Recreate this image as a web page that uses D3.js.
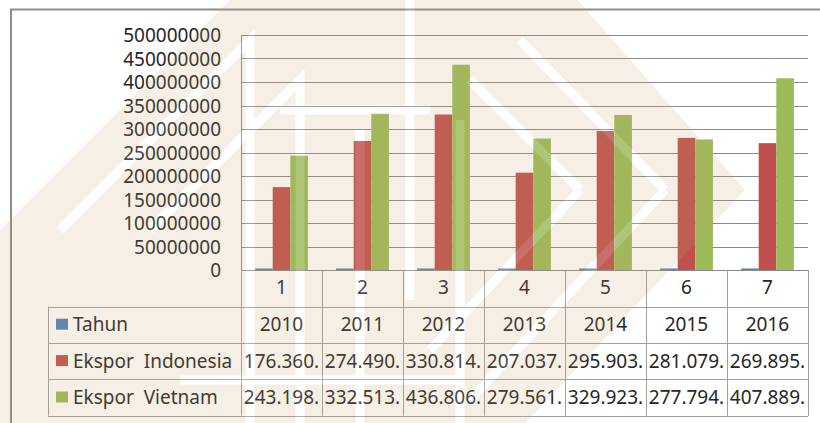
<!DOCTYPE html>
<html>
<head>
<meta charset="utf-8">
<script src="https://cdn.jsdelivr.net/npm/d3@7"></script>
<style>
  body { margin: 0; background: #fff; }
  text { font-family: "Noto Sans", "Open Sans", sans-serif; fill: #262626; }
</style>
</head>
<body>
<div id="chart"></div>
<script>
// data
var categories = ["1", "2", "3", "4", "5", "6", "7"];
var tahun = [2010, 2011, 2012, 2013, 2014, 2015, 2016];
var eksporIndonesia = [176360000, 274490000, 330814000, 207037000, 295903000, 281079000, 269895000];
var eksporVietnam = [243198000, 332513000, 436806000, 279561000, 329923000, 277794000, 407889000];
var seriesNames = ["Tahun", "Ekspor  Indonesia", "Ekspor  Vietnam"];
var seriesColors = ["#4f81bd", "#c0504d", "#9bbb59"];

var series = [
  { name: seriesNames[0], values: tahun, color: seriesColors[0] },
  { name: seriesNames[1], values: eksporIndonesia, color: seriesColors[1] },
  { name: seriesNames[2], values: eksporVietnam, color: seriesColors[2] }
];

var width = 820, height = 423;
var plot = { left: 241, right: 808, top: 35, bottom: 270 };
var tableLeft = 48, tableTop = 306.5, tableBottom = 415.7;

var svg = d3.select("#chart").append("svg")
  .attr("width", width)
  .attr("height", height);

// outer chart frame (cropped at right and bottom)
svg.append("path")
  .attr("d", "M11," + height + "V9.5H" + width)
  .attr("fill", "none")
  .attr("stroke", "#8c8c8c")
  .attr("stroke-width", 2);

// Scales
var xScale = d3.scaleBand()
  .domain(categories)
  .range([plot.left, plot.right]);

var xInner = d3.scaleBand()
  .domain(seriesNames)
  .range([0, xScale.bandwidth()])
  .paddingInner(0)
  .paddingOuter(0.8);

var yScale = d3.scaleLinear()
  .domain([0, 500000000])
  .range([plot.bottom, plot.top]);

// gridlines
svg.append("g")
  .selectAll("line")
  .data(yScale.ticks(10))
  .enter().append("line")
  .attr("x1", plot.left)
  .attr("x2", plot.right)
  .attr("y1", function(d) { return Math.round(yScale(d)) + 0.5; })
  .attr("y2", function(d) { return Math.round(yScale(d)) + 0.5; })
  .attr("stroke", "#8a8a8a");

svg.append("line")
  .attr("x1", plot.left + 0.5).attr("x2", plot.left + 0.5)
  .attr("y1", plot.top).attr("y2", plot.bottom)
  .attr("stroke", "#8a8a8a");

// y axis labels
var yAxis = d3.axisLeft(yScale)
  .ticks(10)
  .tickSize(0)
  .tickPadding(0)
  .tickFormat(d3.format("d"));

var yg = svg.append("g")
  .attr("transform", "translate(221,0)")
  .call(yAxis);
yg.select(".domain").remove();
yg.selectAll("text")
  .attr("font-size", 19)
  .attr("font-family", null)
  .attr("fill", null)
  .attr("dy", "0.35em");

// bars
var groups = svg.append("g")
  .selectAll("g")
  .data(series)
  .enter().append("g")
  .attr("fill", function(d) { return d.color; });

groups.selectAll("rect")
  .data(function(s) {
    return s.values.map(function(v, i) { return { name: s.name, cat: categories[i], value: v }; });
  })
  .enter().append("rect")
  .attr("x", function(d) { return xScale(d.cat) + xInner(d.name); })
  .attr("width", xInner.bandwidth())
  .attr("y", function(d) { return Math.min(yScale(d.value), plot.bottom - 1.5); })
  .attr("height", function(d) { return Math.max(1.5, plot.bottom - yScale(d.value)); });

// data table
var rows = d3.scaleBand()
  .domain(seriesNames)
  .range([tableTop, tableBottom]);

var grid = svg.append("g")
  .attr("stroke", "#a0a0a0")
  .attr("fill", "none");

// horizontal lines of table
grid.selectAll("line.h")
  .data(seriesNames.concat(["end"]))
  .enter().append("line")
  .attr("class", "h")
  .attr("x1", tableLeft)
  .attr("x2", plot.right)
  .attr("y1", function(d, i) { return Math.round(tableTop + i * rows.bandwidth()) + 0.5; })
  .attr("y2", function(d, i) { return Math.round(tableTop + i * rows.bandwidth()) + 0.5; });

// vertical lines in category rows
grid.selectAll("line.v")
  .data(categories.concat(["end"]))
  .enter().append("line")
  .attr("class", "v")
  .attr("x1", function(d, i) { return Math.round(plot.left + i * xScale.bandwidth()) + 0.5; })
  .attr("x2", function(d, i) { return Math.round(plot.left + i * xScale.bandwidth()) + 0.5; })
  .attr("y1", plot.bottom)
  .attr("y2", tableBottom);

grid.append("line")
  .attr("x1", tableLeft + 0.5).attr("x2", tableLeft + 0.5)
  .attr("y1", tableTop).attr("y2", tableBottom);

// category labels
svg.append("g")
  .selectAll("text")
  .data(categories)
  .enter().append("text")
  .attr("x", function(d) { return xScale(d) + xScale.bandwidth() / 2; })
  .attr("y", 287)
  .attr("dy", "0.35em")
  .attr("text-anchor", "middle")
  .attr("font-size", 19)
  .text(function(d) { return d; });

// legend keys + row names
var rowG = svg.append("g")
  .selectAll("g")
  .data(series)
  .enter().append("g")
  .attr("transform", function(d) { return "translate(0," + (rows(d.name) + rows.bandwidth() / 2) + ")"; });

rowG.append("rect")
  .attr("x", 56)
  .attr("y", -6)
  .attr("width", 12)
  .attr("height", 11)
  .attr("fill", function(d) { return d.color; });

rowG.append("text")
  .attr("x", 73)
  .attr("dy", "0.35em")
  .attr("font-size", 19)
  .attr("xml:space", "preserve")
  .style("white-space", "pre")
  .text(function(d) { return d.name; });

// table values, Indonesian separators, clipped like the cell
var idFormat = d3.formatLocale({ decimal: ",", thousands: ".", grouping: [3], currency: ["Rp", ""] }).format(",d");

rowG.selectAll("text.val")
  .data(function(s) {
    return s.values.map(function(v, i) { return { cat: categories[i], value: v, year: s.name === "Tahun" }; });
  })
  .enter().append("text")
  .attr("class", "val")
  .attr("x", function(d) { return xScale(d.cat) + xScale.bandwidth() / 2; })
  .attr("dy", "0.35em")
  .attr("text-anchor", "middle")
  .attr("font-size", 19)
  .text(function(d) { return d.year ? String(d.value) : idFormat(d.value).slice(0, 8); });

// faint beige watermark over the page (rough shape only)
var wmOutline = [[0, 230], [250, -20], [560, -20], [745, 190], [500, 450], [0, 450]];
var wmGaps = [
  [[60, 230], [250, 40], [250, 430]],
  [[150, 230], [300, 80], [300, 460]],
  [[665, 190], [520, 40]],
  [[665, 190], [470, 400]],
  [[580, 190], [470, 80]],
  [[580, 190], [430, 350]],
  [[360, 130], [360, 450]],
  [[410, -10], [410, 300]],
  [[460, 120], [460, 450]],
  [[280, 110], [430, 110]],
  [[180, 380], [460, 380]]
];
var wm = svg.append("g")
  .attr("opacity", 0.17)
  .style("pointer-events", "none");
wm.append("path")
  .attr("d", d3.line()(wmOutline) + "Z")
  .attr("fill", "#c9a26e");
wm.selectAll("path.gap")
  .data(wmGaps)
  .enter().append("path")
  .attr("class", "gap")
  .attr("d", d3.line())
  .attr("fill", "none")
  .attr("stroke", "#fff")
  .attr("stroke-width", 9);
</script>
</body>
</html>
